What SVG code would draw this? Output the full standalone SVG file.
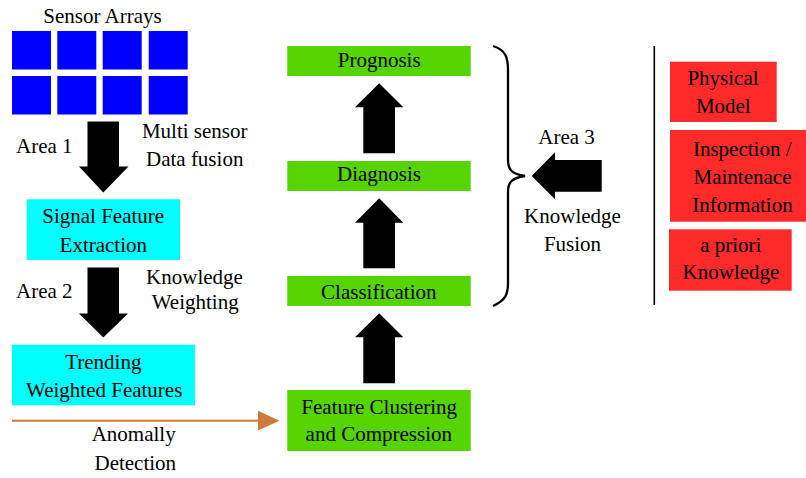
<svg xmlns="http://www.w3.org/2000/svg" width="806" height="478" viewBox="0 0 806 478">
<style>
.t{font-family:'Liberation Serif',serif;font-size:21px;fill:#000;text-anchor:middle}
.sq{fill:#0000FF}
.cy{fill:#00FFFF}
.gr{fill:#55D400}
.rd{fill:#FF2A2A}
.ar{fill:#000}
</style>
<rect width="806" height="478" fill="#fff"/>
<g font-family="Liberation Serif" font-size="21" text-anchor="middle">
<g id="sensor-arrays">
<text class="t" x="102.5" y="23">Sensor Arrays</text>
<rect class="sq" x="12" y="31" width="39" height="38.5"/>
<rect class="sq" x="57.3" y="31" width="39" height="38.5"/>
<rect class="sq" x="102.7" y="31" width="39" height="38.5"/>
<rect class="sq" x="148.7" y="31" width="39" height="38.5"/>
<rect class="sq" x="12" y="76" width="39" height="38.5"/>
<rect class="sq" x="57.3" y="76" width="39" height="38.5"/>
<rect class="sq" x="102.7" y="76" width="39" height="38.5"/>
<rect class="sq" x="148.7" y="76" width="39" height="38.5"/>
</g>
<g id="signal-feature-extraction">
<rect class="cy" x="26.7" y="199.3" width="153.3" height="60.7"/>
<text class="t" x="103.2" y="223.3">Signal Feature</text>
<text class="t" x="103.3" y="251.7">Extraction</text>
</g>
<g id="trending-weighted-features">
<rect class="cy" x="12" y="344.7" width="183" height="60.6"/>
<text class="t" x="103.3" y="369.3">Trending</text>
<text class="t" x="104.2" y="396.7">Weighted Features</text>
</g>
<g id="prognosis">
<rect class="gr" x="287.3" y="46" width="183.4" height="30"/>
<text class="t" x="379.2" y="66.5">Prognosis</text>
</g>
<g id="diagnosis">
<rect class="gr" x="287.3" y="161" width="183.4" height="30"/>
<text class="t" x="379" y="181">Diagnosis</text>
</g>
<g id="classification">
<rect class="gr" x="287.3" y="276" width="183.4" height="30"/>
<text class="t" x="378.8" y="298.5">Classification</text>
</g>
<g id="feature-clustering">
<rect class="gr" x="287.3" y="390" width="183.4" height="61"/>
<text class="t" x="379.2" y="413.5">Feature Clustering</text>
<text class="t" x="378.8" y="440.5">and Compression</text>
</g>
<g id="physical-model">
<rect class="rd" x="670" y="61.7" width="106.7" height="60.3"/>
<text class="t" x="723" y="85">Physical</text>
<text class="t" x="723.3" y="112.7">Model</text>
</g>
<g id="inspection-maintenance">
<rect class="rd" x="670" y="130" width="136" height="91.7"/>
<text class="t" x="742.2" y="156">Inspection /</text>
<text class="t" x="742.5" y="184">Maintenace</text>
<text class="t" x="742.5" y="211.7">Information</text>
</g>
<g id="a-priori-knowledge">
<rect class="rd" x="669" y="229.3" width="122.7" height="61.4"/>
<text class="t" x="730.8" y="251.5">a priori</text>
<text class="t" x="731" y="279.3">Knowledge</text>
</g>
<g id="labels">
<text class="t" x="194.7" y="138">Multi sensor</text>
<text class="t" x="194.7" y="166">Data fusion</text>
<text class="t" x="44.3" y="152.7">Area 1</text>
<text class="t" x="44.3" y="298.3">Area 2</text>
<text class="t" x="194.5" y="284">Knowledge</text>
<text class="t" x="195.2" y="309">Weighting</text>
<text class="t" x="133.7" y="440.7">Anomally</text>
<text class="t" x="135.3" y="470">Detection</text>
<text class="t" x="566.5" y="144">Area 3</text>
<text class="t" x="572.5" y="223.3">Knowledge</text>
<text class="t" x="572.5" y="250.7">Fusion</text>
</g>
</g>
<g id="connectors">
<polygon class="ar" points="87.5,121.5 119,121.5 119,166.5 128.5,166.5 103.3,192.5 79,166.5 87.5,166.5"/>
<polygon class="ar" points="87.5,267.5 119,267.5 119,313.5 128,313.5 103.3,337.5 79,313.5 87.5,313.5"/>
<polygon class="ar" points="363.3,153.3 395,153.3 395,107.3 403.3,107.3 379.2,83.3 355,107.3 363.3,107.3"/>
<polygon class="ar" points="363.3,268.3 395,268.3 395,222.7 403.3,222.7 379.2,198.3 355,222.7 363.3,222.7"/>
<polygon class="ar" points="363.3,383.3 395,383.3 395,337.3 403.3,337.3 379.2,313.3 355,337.3 363.3,337.3"/>
<polygon class="ar" points="601.7,160 601.7,191.7 555,191.7 555,199.3 531.7,176 555,152.3 555,160"/>
<line x1="12" y1="420.7" x2="260" y2="420.7" stroke="#CD7A3E" stroke-width="2"/>
<polygon points="258,410.8 279.5,420.7 258,430.6" fill="#CD7A3E"/>
<path d="M493,46 C506,50 508,58 508,70 L508,160 C508,170 512,174 525,176 C512,178 508,182 508,192 L508,283 C508,294 506,300 493,306" fill="none" stroke="#000" stroke-width="2.3"/>
<line x1="654.3" y1="46" x2="654.3" y2="305" stroke="#000" stroke-width="1.6"/>
</g>
</svg>
